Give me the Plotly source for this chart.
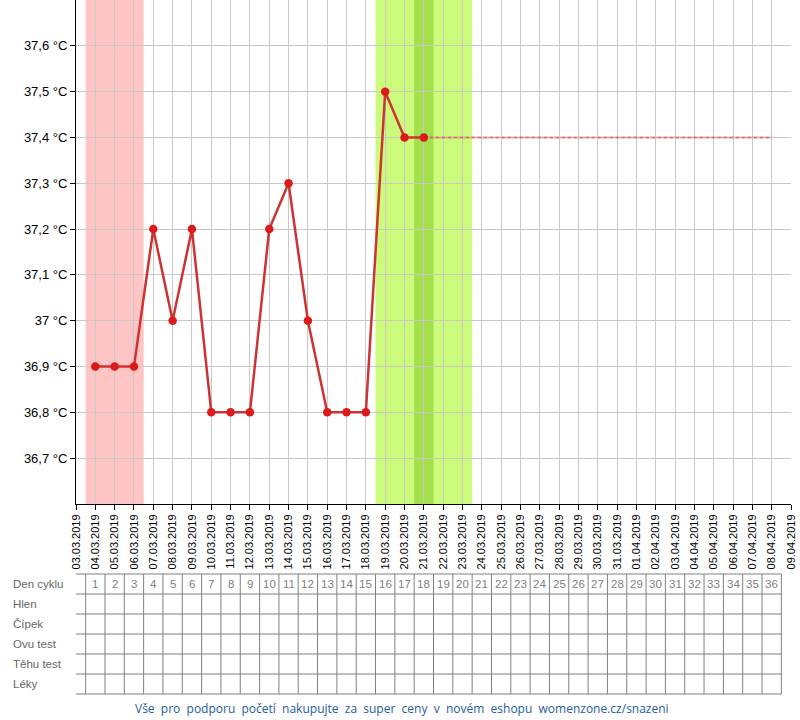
import plotly.graph_objects as go
import pandas as pd

# ---- data ----
dates = ["2019-03-04", "2019-03-05", "2019-03-06", "2019-03-07", "2019-03-08", "2019-03-09",
         "2019-03-10", "2019-03-11", "2019-03-12", "2019-03-13", "2019-03-14", "2019-03-15",
         "2019-03-16", "2019-03-17", "2019-03-18", "2019-03-19", "2019-03-20", "2019-03-21"]
temps = [36.9, 36.9, 36.9, 37.2, 37.0, 37.2, 36.8, 36.8, 36.8, 37.2, 37.3, 37.0,
         36.8, 36.8, 36.8, 37.5, 37.4, 37.4]
proj_dates = ["2019-03-21", "2019-04-08"]
proj_temps = [37.4, 37.4]

period_days = ["2019-03-04", "2019-03-06"]      # menstruation band (first, last day)
fertile_days = ["2019-03-19", "2019-03-23"]     # fertile window (first, last day)
ovulation_day = "2019-03-21"

x_start, x_end = "2019-03-03", "2019-04-09"
y_ticks = [36.7, 36.8, 36.9, 37.0, 37.1, 37.2, 37.3, 37.4, 37.5, 37.6]
y_ticklabels = ["36,7 °C", "36,8 °C", "36,9 °C", "37 °C", "37,1 °C", "37,2 °C",
                "37,3 °C", "37,4 °C", "37,5 °C", "37,6 °C"]

row_labels = ["Den cyklu", "Hlen", "Čípek", "Ovu test", "Těhu test", "Léky"]
cycle_days = list(range(1, 37))
footer = "Vše pro podporu početí nakupujte za super ceny v novém eshopu womenzone.cz/snazeni"

# ---- figure ----
W, H = 800, 720
ML, MR, MT, MB = 76, 9, 0, 216
PH = H - MT - MB
PW = W - ML - MR

def py(p):
    return (PH - p) / PH

half = pd.Timedelta(hours=12)
def day_edge(d, side):
    t = pd.Timestamp(d)
    return (t - half) if side < 0 else (t + half)

fig = go.Figure()

fig.add_trace(go.Scatter(x=proj_dates, y=proj_temps, mode="lines",
                         line=dict(color="rgba(230,120,120,0.35)", width=2.5),
                         hoverinfo="skip", showlegend=False))
fig.add_trace(go.Scatter(x=proj_dates, y=proj_temps, mode="lines",
                         line=dict(color="rgba(210,60,60,0.6)", width=1.5, dash="dot"),
                         hoverinfo="skip", showlegend=False))
fig.add_trace(go.Scatter(x=dates, y=temps, mode="lines+markers",
                         line=dict(color="#cc3333", width=2.5),
                         marker=dict(color="#dd1a1a", size=8.5),
                         showlegend=False))

shapes = []
shapes.append(dict(type="rect", xref="x", yref="paper", layer="below",
                   x0=day_edge(period_days[0], -1), x1=day_edge(period_days[1], 1),
                   y0=0, y1=1, fillcolor="#ffc4c4", line=dict(width=0)))
shapes.append(dict(type="rect", xref="x", yref="paper", layer="below",
                   x0=day_edge(fertile_days[0], -1), x1=day_edge(fertile_days[1], 1),
                   y0=0, y1=1, fillcolor="#ccfa7a", line=dict(width=0)))
shapes.append(dict(type="rect", xref="x", yref="paper", layer="below",
                   x0=day_edge(ovulation_day, -1), x1=day_edge(ovulation_day, 1),
                   y0=0, y1=1, fillcolor="#a2e04c", line=dict(width=0)))

# table
TOP, ROWH = 574, 20
ncols = len(cycle_days)
first_col = pd.Timestamp(x_start) + pd.Timedelta(days=1)
left_paper = (10 - ML) / PW
table_right = day_edge(first_col + pd.Timedelta(days=ncols - 1), 1)
gcol = "#808080"
annotations = []
for r in range(len(row_labels) + 1):
    yy = py(TOP + r * ROWH)
    shapes.append(dict(type="line", xref="x", yref="paper",
                       x0=pd.Timestamp(x_start) - pd.Timedelta(days=66 / (PW / 37)),
                       x1=table_right, y0=yy, y1=yy, line=dict(color=gcol, width=1)))
for c in range(ncols + 1):
    xx = day_edge(first_col + pd.Timedelta(days=c), -1)
    shapes.append(dict(type="line", xref="x", yref="paper", x0=xx, x1=xx,
                       y0=py(TOP), y1=py(TOP + len(row_labels) * ROWH),
                       line=dict(color=gcol, width=1)))

for r, lab in enumerate(row_labels):
    annotations.append(dict(text=lab, xref="paper", yref="paper", x=left_paper + 0.002,
                            y=py(TOP + r * ROWH + ROWH / 2), xanchor="left", yanchor="middle",
                            showarrow=False,
                            font=dict(family="Liberation Sans", size=11.5, color="#666666")))
for i, d in enumerate(cycle_days):
    annotations.append(dict(text=str(d), xref="x", yref="paper",
                            x=first_col + pd.Timedelta(days=i),
                            y=py(TOP + ROWH / 2), xanchor="center", yanchor="middle",
                            showarrow=False,
                            font=dict(family="Liberation Sans", size=11.5, color="#808080")))

footer_txt = " \u00a0".join(footer.split(" "))
annotations.append(dict(text=footer_txt, xref="paper", yref="paper", x=(402 - ML) / PW,
                        y=py(708), xanchor="center", yanchor="middle", showarrow=False,
                        font=dict(family="Open Sans", size=12, color="#265d9c")))

fig.update_layout(
    width=W, height=H, margin=dict(l=ML, r=MR, t=MT, b=MB, pad=0, autoexpand=False),
    paper_bgcolor="white", plot_bgcolor="white",
    shapes=shapes, annotations=annotations, showlegend=False,
    xaxis=dict(type="date", range=[x_start, x_end], tick0=x_start, dtick=86400000,
               tickformat="%d.%m.%Y", tickangle=-90, showgrid=True, gridcolor="#c8c8c8",
               gridwidth=1, showline=True, linecolor="black", linewidth=1,
               ticks="outside", ticklen=5, tickcolor="black", zeroline=False,
               automargin=False,
               tickfont=dict(family="Liberation Sans", size=11, color="black")),
    yaxis=dict(range=[36.6, 37.7], tickvals=y_ticks, ticktext=y_ticklabels,
               showgrid=True, gridcolor="#c8c8c8", gridwidth=1, showline=True,
               linecolor="black", linewidth=1, ticks="outside", ticklen=5,
               tickcolor="black", zeroline=False, automargin=False,
               tickfont=dict(family="Liberation Sans", size=13, color="black")),
)

fig.write_html("out.html", config={"displayModeBar": False},
               post_script="document.body.style.margin='0';document.body.style.overflow='hidden';")
